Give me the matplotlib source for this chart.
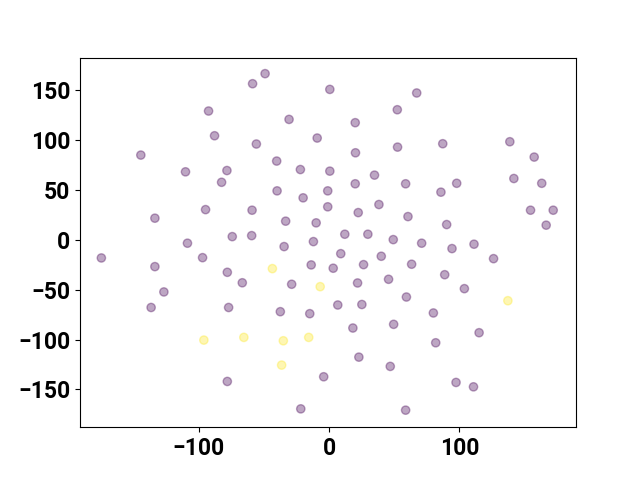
import numpy as np
import matplotlib
matplotlib.use('Agg')
import matplotlib.pyplot as plt

plt.rcParams['font.family'] = ['Roboto', 'DejaVu Sans']

# embedding coordinates, class 0 (purple)
x0 = [-174.9, -144.6, -133.8, -133.8, -126.9, -136.7, -110.3, -108.8, -97.2, -94.9,
      -92.6, -88.0, -82.6, -78.5, -74.4, -78.2, -77.2, -78.2, -66.7, -59.5,
      -59.2, -58.8, -55.9, -49.2, -40.3, -40.0, -33.4, -34.6, -37.5, -30.8,
      -28.8, -22.1, -20.0, -13.8, -12.1, -14.9, -10.0, -9.2, 0.5, -1.1,
      -1.1, 0.5, 3.1, 8.9, 12.0, 6.6, -4.2, -21.8, 20.0, 20.2,
      20.0, 22.3, 26.4, 29.7, 34.8, 38.2, 40.0, 45.6, 49.2, 52.5,
      52.3, 46.9, 49.5, 18.2, 21.8, 25.1, 22.8, 58.7, 58.7, 60.5,
      59.3, 63.3, 67.2, 71.0, 80.0, 81.8, 85.8, 87.2, 88.7, 90.2,
      94.3, 97.9, 97.4, 103.8, 110.8, 111.2, 115.1, 126.2, 138.7, 141.8,
      154.6, 157.4, 163.2, 166.6, 172.0]
y0 = [-18.1, 85.1, 21.8, -26.8, -52.2, -67.8, 68.3, -3.3, -17.8, 30.4,
      129.3, 104.5, 57.8, 69.6, 3.3, -32.5, -67.8, -142.0, -43.0, 4.3,
      29.8, 156.7, 96.2, 166.8, 79.1, 49.2, 18.8, -6.7, -72.0, 120.9,
      -44.5, 70.6, 42.2, -25.1, -1.7, -74.0, 17.1, 102.2, 151.0, 49.2,
      33.2, 69.0, -28.4, -13.8, 5.7, -65.3, -137.3, -169.5, 117.6, 87.4,
      56.3, 27.4, -24.8, 5.7, 65.0, 35.5, -16.4, -39.5, 0.3, 93.1,
      130.6, -126.9, -84.7, -88.4, -43.2, -64.8, -117.6, -170.8, 56.3, 23.4,
      -57.3, -24.4, 147.4, -3.3, -73.3, -103.2, 47.9, 96.5, -34.9, 15.4,
      -8.7, 56.8, -143.0, -48.9, -147.4, -4.3, -93.1, -18.8, 98.5, 61.6,
      29.8, 83.1, 56.8, 14.8, 29.8]

# class 1 (yellow)
x1 = [-96.2, -65.5, -43.6, -35.2, -36.5, -15.7, -6.9, 137.2]
y1 = [-100.5, -97.8, -28.8, -101.2, -125.6, -97.8, -46.9, -61.0]

xticks = [-100, 0, 100]
yticks = [-150, -100, -50, 0, 50, 100, 150]

xs = np.array(x0 + x1)
ys = np.array(y0 + y1)
labels = np.array([0] * len(x0) + [1] * len(x1))

fig, ax = plt.subplots(figsize=(6.4, 4.8), dpi=100)
ax.scatter(xs, ys, c=labels, cmap='viridis', alpha=0.35)
ax.set_xlim(-191.3, 189.5)
ax.set_ylim(-187.9, 182.9)
ax.set_xticks(xticks)
ax.set_yticks(yticks)

for lab in ax.get_xticklabels() + ax.get_yticklabels():
    lab.set_fontsize(16.5)
    lab.set_fontweight('bold')

plt.savefig('out.png', dpi=100)
